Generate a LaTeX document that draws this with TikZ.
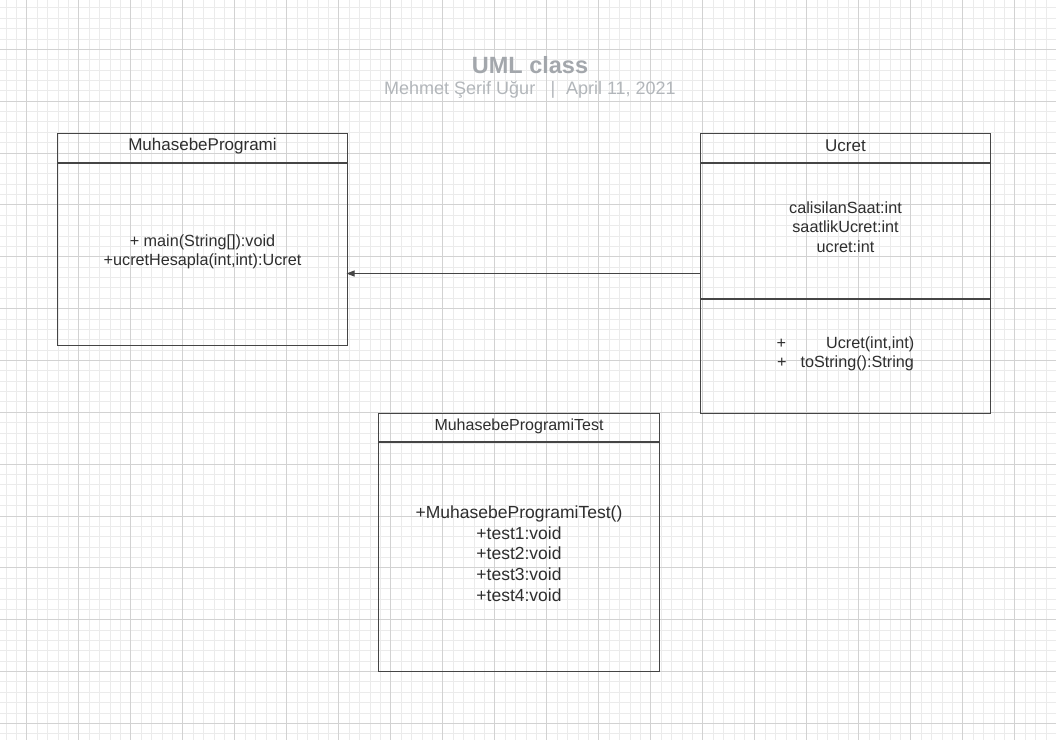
\documentclass[tikz,border=0pt]{standalone}
\usepackage{fontspec}
\setmainfont{Liberation Sans}
\usetikzlibrary{arrows.meta}
\definecolor{gridminor}{HTML}{EBEBEB}
\definecolor{gridmajor}{HTML}{D2D2D2}
\definecolor{boxline}{HTML}{454545}
\definecolor{boxtext}{HTML}{2E2E2E}
\definecolor{titlegray}{HTML}{A3A7AC}
\definecolor{subgray}{HTML}{B2B6BA}
\tikzset{
  compartment/.style={draw=boxline, line width=1pt, rectangle, inner sep=0pt},
  memberText/.style={text=boxtext, align=center, inner sep=0pt,
    font=\fontsize{16.2}{19.5}\selectfont},
  headText/.style={memberText, font=\fontsize{17}{20}\selectfont},
  assoc/.style={draw=boxline, line width=1pt, -{Triangle[length=8pt,width=6pt]}},
}
\begin{document}
\begin{tikzpicture}[x=1pt,y=-1pt]
\useasboundingbox (0,0) rectangle (1056,740);
\fill[white] (0,0) rectangle (1056,740);
% background grid
\foreach \x in {5.9,16.3,...,1056} \draw[gridminor, line width=0.8pt] (\x,0) -- (\x,740);
\foreach \y in {7.8,18.17,...,740} \draw[gridminor, line width=0.8pt] (0,\y) -- (1056,\y);
\foreach \x in {26.7,78.7,...,1056} \draw[gridmajor, line width=0.9pt] (\x,0) -- (\x,740);
\foreach \y in {49.3,101.15,...,740} \draw[gridmajor, line width=0.9pt] (0,\y) -- (1056,\y);

% title
\node[text=titlegray, font=\fontsize{23.5}{26}\selectfont\bfseries] (title) at (530,65) {UML class};
\node[text=subgray, font=\fontsize{18}{20}\selectfont] (subtitle) at (530,90)
  {Mehmet Şerif Uğur\hspace{0.85em}|\hspace{0.6em}April 11, 2021};

% class MuhasebeProgrami
\node[compartment, minimum width=290pt, minimum height=29pt, anchor=north west]
  (mpH) at (57,133) {};
\node[compartment, minimum width=290pt, minimum height=182pt, anchor=north]
  (mpB) at (mpH.south) {};
\node[headText, yshift=2pt] (mpHt) at (mpH.center) {MuhasebeProgrami};
\node[memberText, yshift=2.5pt] (mpBt) at (mpB.center) {+ main(String[]):void\\+ucretHesapla(int,int):Ucret};

% class Ucret
\node[compartment, minimum width=290pt, minimum height=29pt, anchor=north west]
  (ucH) at (700,133) {};
\node[compartment, minimum width=290pt, minimum height=135pt, anchor=north]
  (ucA) at (ucH.south) {};
\node[compartment, minimum width=290pt, minimum height=114pt, anchor=north]
  (ucM) at (ucA.south) {};
\node[headText, yshift=2pt] (ucHt) at (ucH.center) {Ucret};
\node[memberText, yshift=4pt] (ucAt) at (ucA.center) {calisilanSaat:int\\saatlikUcret:int\\ucret:int};
\node[memberText, yshift=2.5pt] (ucMt) at (ucM.center)
  {+\hspace{40pt}Ucret(int,int)\\+\hspace{14pt}toString():String};

% class MuhasebeProgramiTest
\node[compartment, minimum width=281pt, minimum height=28pt, anchor=north west]
  (mtH) at (378,413) {};
\node[compartment, minimum width=281pt, minimum height=229pt, anchor=north]
  (mtB) at (mtH.south) {};
\node[memberText, font=\fontsize{16}{19}\selectfont, yshift=1pt] (mtHt) at (mtH.center) {MuhasebeProgramiTest};
\node[memberText, font=\fontsize{17.5}{20.75}\selectfont, yshift=3.5pt] (mtBt) at (mtB.center)
  {+MuhasebeProgramiTest()\\+test1:void\\+test2:void\\+test3:void\\+test4:void};

% association Ucret -> MuhasebeProgrami
\draw[assoc, shorten >=-1.5pt] ([yshift=-42.5pt]ucA.west) -- ([yshift=-42.5pt]ucA.west -| mpB.east);
\end{tikzpicture}
\end{document}
